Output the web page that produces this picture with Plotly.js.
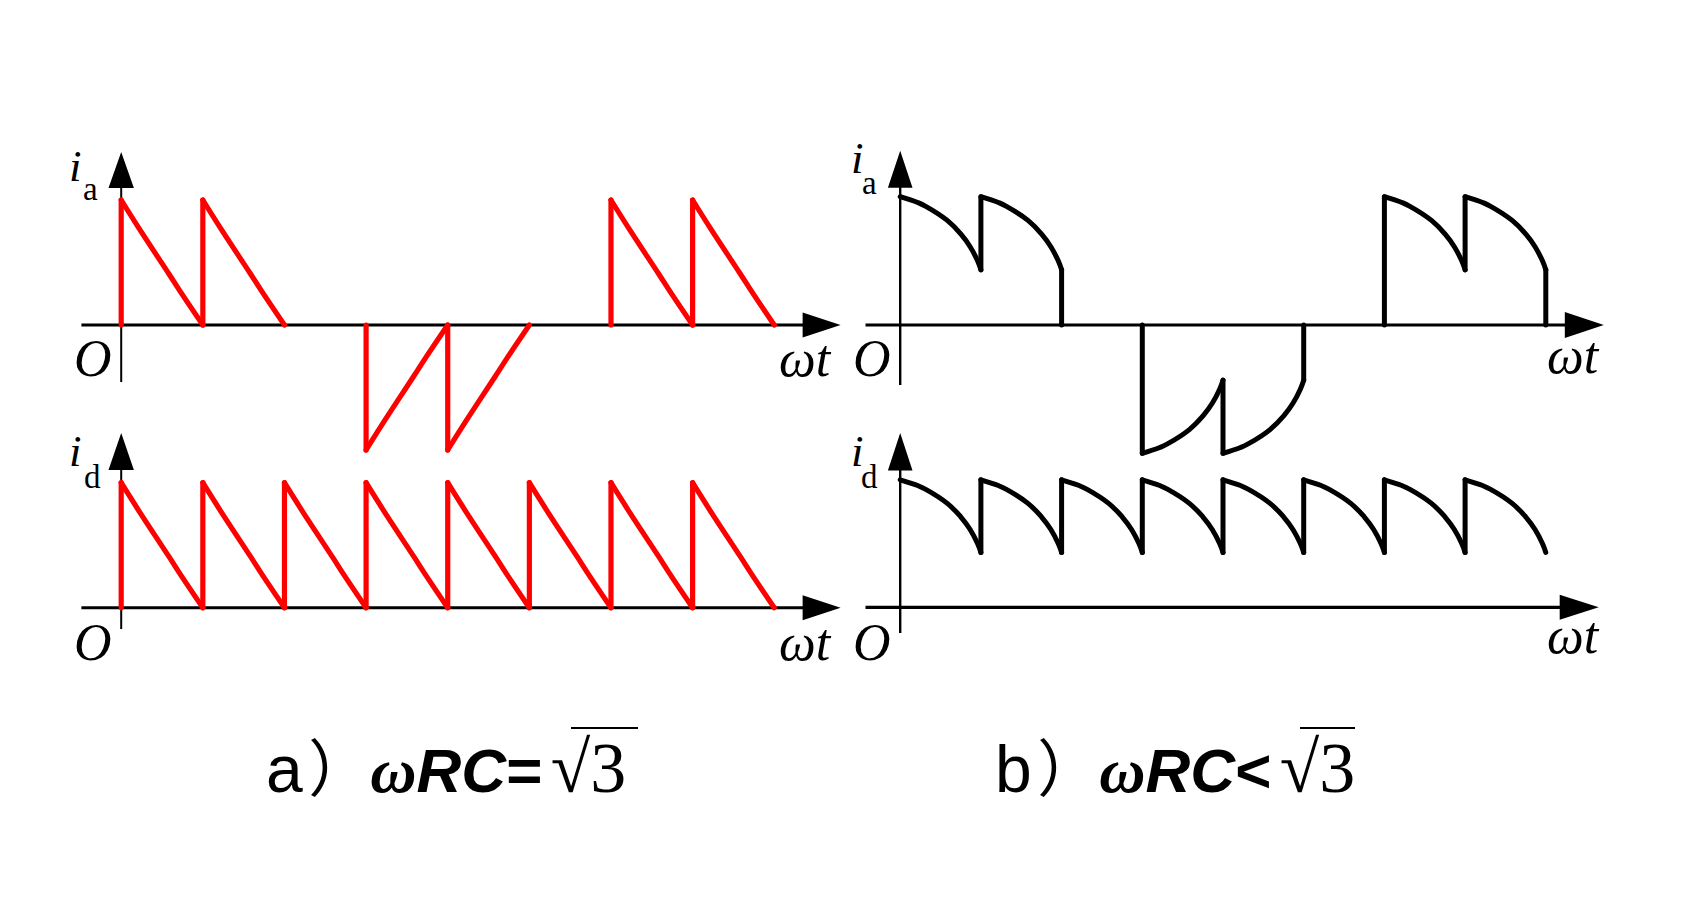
<!DOCTYPE html>
<html><head><meta charset="utf-8">
<script src="https://cdn.plot.ly/plotly-3.0.1.min.js"></script>
<style>
html,body{margin:0;padding:0;background:#fff;}
#chart{width:1700px;height:912px;}
#chart .scatterlayer .js-line{stroke-linejoin:round;stroke-linecap:round;}
</style>
</head><body><div id="chart"></div>
<script>
// ---------------- data ----------------
// start of each 60° conduction interval, in degrees of ωt
const intervalStartDeg = [0, 60, 120, 180, 240, 300, 360, 420];
// sign of the pulse in each interval (0 = no current)
const iaSignA = [1, 1, 0, -1, -1, 0, 1, 1];
const idSignA = [1, 1, 1, 1, 1, 1, 1, 1];
const iaSignB = [1, 1, 0, -1, -1, 0, 1, 1];
const idSignB = [1, 1, 1, 1, 1, 1, 1, 1];
// pulse shape, case a) ωRC = √3 (phase in degrees inside the interval, value relative to peak)
const pulsePhaseA = [0, 13, 35, 43, 60];
const pulseValueA = [1, 0.775, 0.41, 0.275, 0];
// pulse shape, case b) ωRC < √3
const pulsePhaseB = [0, 13, 19, 35, 45, 52, 57.5, 60];
const pulseValueB = [1, 0.955, 0.925, 0.815, 0.71, 0.61, 0.5, 0.43];
// texts
const xLabel = 'ωt';
const originLabel = 'O';
const yLabelMain = 'i';
const yLabelSubTop = 'a';
const yLabelSubBottom = 'd';
const captionA = ['a', '）', 'ω', 'RC', '=', '√3'];
const captionB = ['b', '）', 'ω', 'RC', '<', '√3'];

// ---------------- build waveforms ----------------
function buildWave(signs, phase, value, riseAtOrigin, dropAtLastEnd) {
  const cx = [], cy = [], jx = [], jy = [];
  const n = signs.length;
  const last = value[value.length - 1];
  const span = phase[phase.length - 1];
  for (let i = 0; i < n; i++) {
    const s = signs[i];
    if (s === 0) continue;
    const t0 = intervalStartDeg[i];
    const groupStart = (i === 0 || signs[i - 1] !== s);
    const from = groupStart ? 0 : s * last;
    if (!(groupStart && t0 === 0 && !riseAtOrigin)) {
      jx.push(t0, t0, null); jy.push(from, s * value[0], null);
    }
    for (let k = 0; k < phase.length; k++) { cx.push(t0 + phase[k]); cy.push(s * value[k]); }
    cx.push(null); cy.push(null);
    const groupEnd = (i === n - 1 || signs[i + 1] !== s);
    if (groupEnd && last !== 0 && (i < n - 1 || dropAtLastEnd)) {
      jx.push(t0 + span, t0 + span, null); jy.push(s * last, 0, null);
    }
  }
  return {curve: {x: cx, y: cy}, jumps: {x: jx, y: jy}};
}

const W = 1700, H = 912;
// panel geometry in pixels (origin, scale, axis extents)
const panels = [
  {n: '',  ox: 121.2, oy: 325,   sx: 1.3605, sy: 125,   xr: [-32, 532], yr: [-1.15, 1.45],
   xStart: 81.4, xTip: 840.6, xLen: 38, xHalf: 12.5, xw: 3, yBot: 382, yTip: 152, yLen: 36, yHalf: 12.7, yw: 2,
   wave: buildWave(iaSignA, pulsePhaseA, pulseValueA, true, false), color: '#ff0000', lw: 5.2},
  {n: '2', ox: 121.2, oy: 607.7, sx: 1.3605, sy: 125,   xr: [-32, 532], yr: [-0.35, 1.45],
   xStart: 81.4, xTip: 840.6, xLen: 38, xHalf: 12.5, xw: 3, yBot: 629, yTip: 433, yLen: 37, yHalf: 12.7, yw: 2,
   wave: buildWave(idSignA, pulsePhaseA, pulseValueA, true, false), color: '#ff0000', lw: 5.2},
  {n: '3', ox: 900.2, oy: 325,   sx: 1.345,  sy: 128.3, xr: [-28, 528], yr: [-1.12, 1.45],
   xStart: 865.5, xTip: 1603.8, xLen: 39, xHalf: 13, xw: 3.2, yBot: 385, yTip: 150.7, yLen: 37, yHalf: 12.3, yw: 2.4,
   wave: buildWave(iaSignB, pulsePhaseB, pulseValueB, false, true), color: '#000000', lw: 5},
  {n: '4', ox: 900.2, oy: 607.3, sx: 1.345,  sy: 127.5, xr: [-28, 528], yr: [-0.35, 1.45],
   xStart: 865.5, xTip: 1598.7, xLen: 39, xHalf: 12.5, xw: 3.2, yBot: 633, yTip: 433, yLen: 37.5, yHalf: 12.3, yw: 2.4,
   wave: buildWave(idSignB, pulsePhaseB, pulseValueB, false, false), color: '#000000', lw: 5}
];

const traces = [];
const layout = {
  width: W, height: H, margin: {l: 0, r: 0, t: 0, b: 0},
  paper_bgcolor: '#ffffff', plot_bgcolor: 'rgba(0,0,0,0)',
  showlegend: false, hovermode: false,
  font: {family: 'Liberation Serif', color: '#000'},
  shapes: [], annotations: []
};

panels.forEach(p => {
  const xa = 'xaxis' + p.n, ya = 'yaxis' + p.n;
  const xr = 'x' + p.n, yr = 'y' + p.n;
  layout[xa] = {domain: [(p.ox + p.sx * p.xr[0]) / W, (p.ox + p.sx * p.xr[1]) / W], range: p.xr,
                anchor: yr, visible: false, fixedrange: true};
  layout[ya] = {domain: [1 - (p.oy - p.sy * p.yr[0]) / H, 1 - (p.oy - p.sy * p.yr[1]) / H], range: p.yr,
                anchor: xr, visible: false, fixedrange: true};
  const toX = px => (px - p.ox) / p.sx;
  const toY = py => (p.oy - py) / p.sy;
  // x axis line + arrow
  layout.shapes.push({type: 'line', layer: 'below', xref: xr, yref: yr,
    x0: toX(p.xStart), x1: toX(p.xTip - p.xLen + 2), y0: 0, y1: 0, line: {color: '#000', width: p.xw}});
  layout.shapes.push({type: 'path', layer: 'below', xref: xr, yref: yr, xsizemode: 'pixel', ysizemode: 'pixel',
    xanchor: toX(p.xTip), yanchor: 0,
    path: `M0,0 L${-p.xLen},${p.xHalf} L${-p.xLen},${-p.xHalf} Z`, fillcolor: '#000', line: {width: 0}});
  // y axis line + arrow
  layout.shapes.push({type: 'line', layer: 'below', xref: xr, yref: yr,
    x0: 0, x1: 0, y0: toY(p.yBot), y1: toY(p.yTip + p.yLen - 2), line: {color: '#000', width: p.yw}});
  layout.shapes.push({type: 'path', layer: 'below', xref: xr, yref: yr, xsizemode: 'pixel', ysizemode: 'pixel',
    xanchor: 0, yanchor: toY(p.yTip),
    path: `M0,0 L${-p.yHalf},${-p.yLen} L${p.yHalf},${-p.yLen} Z`, fillcolor: '#000', line: {width: 0}});
  traces.push({type: 'scatter', mode: 'lines', x: p.wave.jumps.x, y: p.wave.jumps.y, xaxis: xr, yaxis: yr,
    connectgaps: false, line: {color: p.color, width: p.lw}, hoverinfo: 'skip'});
  traces.push({type: 'scatter', mode: 'lines', x: p.wave.curve.x, y: p.wave.curve.y, xaxis: xr, yaxis: yr,
    connectgaps: false, line: {color: p.color, width: p.lw, shape: 'spline', smoothing: 1.2, simplify: false}, hoverinfo: 'skip'});
});

// text helper: centre x and baseline in pixels
function label(text, cx, baseline, size, italic, family, k) {
  k = k || 0.3375;
  layout.annotations.push({
    text: italic ? '<i>' + text + '</i>' : text,
    xref: 'paper', yref: 'paper', x: cx / W, y: 1 - (baseline - k * size) / H,
    xanchor: 'center', yanchor: 'middle', showarrow: false,
    font: {family: family || 'Liberation Serif', size: size, color: '#000'}
  });
}
// axis labels
[[75.8, 181, 90, 200, yLabelSubTop], [75.4, 466, 92, 488, yLabelSubBottom],
 [857.5, 173, 869, 194, yLabelSubTop], [857, 466, 870, 488, yLabelSubBottom]].forEach(a => {
  label(yLabelMain, a[0], a[1], 45, true);
  label(a[4], a[2], a[3], 33, false);
});
[[92.7, 376], [92.7, 660], [872, 376], [872, 660]].forEach(a => label(originLabel, a[0], a[1], 52, true));
[[805, 376], [805, 660], [1573, 373], [1573, 653]].forEach(a => label(xLabel, a[0], a[1], 52, true));

// captions
function caption(parts, left, baseline) {
  const t = '<span style="font-size:66px">' + parts[0] + '</span>' +
    '<span style="font-size:20px"> </span>' +
    '<span style="font-family:Noto Sans CJK SC">' + parts[1] + '</span>' +
    '<span style="font-family:Liberation Serif;font-size:64px"><b><i>' + parts[2] + '</i></b></span>' +
    '<b><i>' + parts[3] + '</i></b><b>' + parts[4] + '</b>' +
    '<span style="font-size:30px"> </span>' +
    '<span style="font-family:Liberation Serif;font-size:72px">' + parts[5] + '</span>';
  layout.annotations.push({
    text: t, xref: 'paper', yref: 'paper', x: left / W, y: 1 - (baseline - 27) / H,
    xanchor: 'left', yanchor: 'middle', showarrow: false,
    font: {family: 'Liberation Sans', size: 62, color: '#000'}
  });
}
caption(captionA, 264, 792);
caption(captionB, 993, 792);
// radical overbars
layout.shapes.push({type: 'line', xref: 'paper', yref: 'paper', x0: 571 / W, x1: 638 / W, y0: 1 - 728 / H, y1: 1 - 728 / H, line: {color: '#000', width: 2}});
layout.shapes.push({type: 'line', xref: 'paper', yref: 'paper', x0: 1300 / W, x1: 1355 / W, y0: 1 - 728 / H, y1: 1 - 728 / H, line: {color: '#000', width: 2}});

Plotly.newPlot('chart', traces, layout, {staticPlot: true, displayModeBar: false});
</script>
</body></html>
